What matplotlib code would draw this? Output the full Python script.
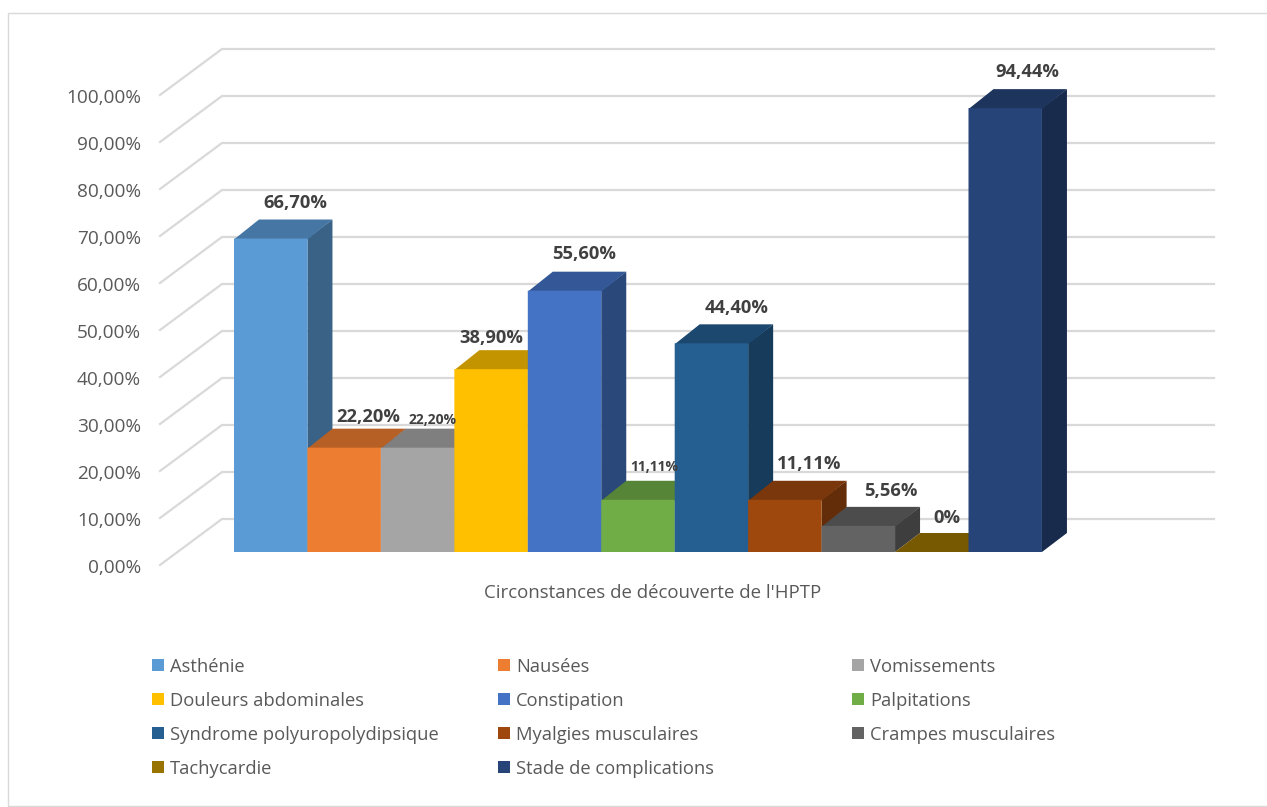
import matplotlib
matplotlib.use('Agg')
import matplotlib.pyplot as plt
from matplotlib.colors import to_rgb
from matplotlib.patches import Patch, Rectangle

plt.rcParams['font.family'] = ['Open Sans', 'DejaVu Sans']

# Donnees
categories = ['Asthénie', 'Nausées', 'Vomissements', 'Douleurs abdominales',
              'Constipation', 'Palpitations', 'Syndrome polyuropolydipsique',
              'Myalgies musculaires', 'Crampes musculaires', 'Tachycardie',
              'Stade de complications']
values = [66.70, 22.20, 22.20, 38.90, 55.60, 11.11, 44.40, 11.11, 5.56, 0, 94.44]
value_labels = ['66,70%', '22,20%', '22,20%', '38,90%', '55,60%', '11,11%',
                '44,40%', '11,11%', '5,56%', '0%', '94,44%']
colors = ['#5B9BD5', '#ED7D31', '#A5A5A5', '#FFC000', '#4472C4', '#70AD47',
          '#255E91', '#9E480E', '#636363', '#997300', '#264478']
y_ticks = list(range(0, 101, 10))
y_tick_labels = [f'{t},00%' for t in y_ticks]
x_title = "Circonstances de découverte de l'HPTP"

# Decalage des etiquettes par rapport au sommet de la barre (pixels)
label_dx = [25, 24, 15, 0, 19.5, 16, 25, 24, 33, 15, 22]
label_dy = [35.5, 31, 28, 31, 37, 33, 35, 36, 35, 34, 36]
label_size = [13.2, 13.2, 10, 13.2, 13.2, 10, 13.2, 13.2, 13.2, 13.2, 13.2]

W, H = 1267, 807
PX_X = 73.45  # pixels par categorie
PX_Y = 4.7    # pixels par point de %
PT = 0.72     # 1 pixel en points

fig = plt.figure(figsize=(W / 100, H / 100), dpi=100)
ax = fig.add_axes([0, 0, 1, 1])
ax.set_xlim(-0.5 - 234 / PX_X, -0.5 + (W - 234) / PX_X)
ax.set_ylim(-(H - 552) / PX_Y, 552 / PX_Y)
ax.axis('off')

# cadre du graphique
fig.add_artist(Rectangle((8 / W, 1 / H), 1.0, 793 / H, transform=fig.transFigure,
                         fill=False, edgecolor='#d9d9d9', linewidth=1))

# profondeur du mur et des barres
wall_left = -0.5 - 74 / PX_X
wall_dx = 62 / PX_X
wall_right = -0.5 + (1214 - 234) / PX_X
floor_y = -13 / PX_Y
wall_dy = 46 / PX_Y
bar_dx = 25 / PX_X
bar_dy = 19 / PX_Y
width = 1.0

# grille sur le mur du fond
for t, lab in zip(y_ticks, y_tick_labels):
    y0 = t + floor_y
    ax.plot([wall_left, wall_left + wall_dx, wall_right], [y0, y0 + wall_dy, y0 + wall_dy],
            color='#d9d9d9', linewidth=1.6, zorder=1, solid_joinstyle='miter')
    ax.annotate(lab, (wall_left, y0), xytext=(-19 * PT, -3 * PT), textcoords='offset points',
                ha='right', va='center', fontsize=13.7, color='#595959')


def shade(color, factor):
    return tuple(c * factor for c in to_rgb(color))


# barres : de gauche a droite, la suivante recouvre la precedente
for i, (v, c) in enumerate(zip(values, colors)):
    z = 3 + i
    left, right = i - width / 2, i + width / 2
    # le dessus descend un peu sous la face avant pour eviter un liseré
    seam = max(v - 0.2, 0)
    ax.fill([right, right + bar_dx, right + bar_dx, right],
            [0, bar_dy, v + bar_dy, v], color=shade(c, 0.63), linewidth=0, zorder=z, snap=False)
    ax.fill([left, left + bar_dx, right + bar_dx, right],
            [seam, v + bar_dy, v + bar_dy, seam], color=shade(c, 0.77), linewidth=0, zorder=z, snap=False)
    ax.bar(i, v, width=width, color=c, linewidth=0, zorder=z, snap=False)

for i, v in enumerate(values):
    ax.annotate(value_labels[i], (i, v), xytext=(label_dx[i] * PT, label_dy[i] * PT),
                textcoords='offset points', ha='center', va='center',
                fontsize=label_size[i], fontweight='bold', color='#404040', zorder=20)

ax.annotate(x_title, (5.5, 0), xytext=(-22 * PT, -41 * PT), textcoords='offset points',
            ha='center', va='center', fontsize=13.4, color='#595959')

# legende : trois colonnes placees separement
col_left = [148.3, 494.3, 848.3]
for col in range(3):
    idx = range(col, len(categories), 3)
    handles = [Patch(facecolor=colors[k], edgecolor='none') for k in idx]
    fig.legend(handles, [categories[k] for k in idx], loc='upper left',
               bbox_to_anchor=(col_left[col] / W, 1 - 654 / H), frameon=False,
               fontsize=13.2, labelcolor='#595959', handlelength=0.65, handleheight=0.65,
               handletextpad=0.33, labelspacing=0.875, borderpad=0.2, borderaxespad=0)

fig.savefig('out.png', dpi=100)
